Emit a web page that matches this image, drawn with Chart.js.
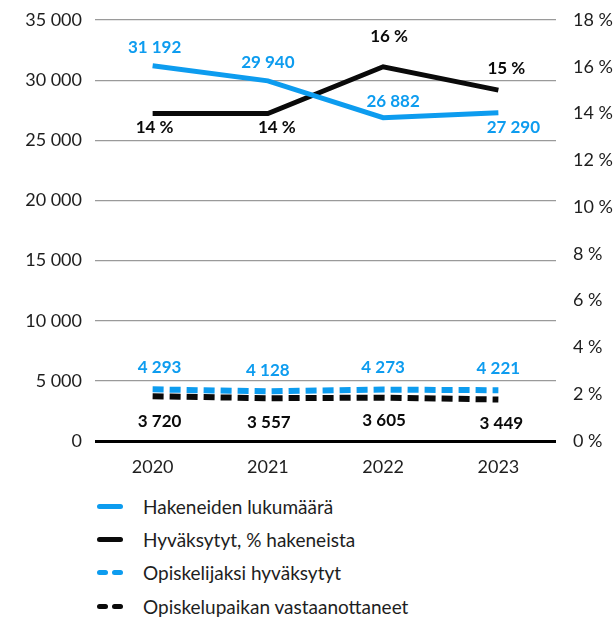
<!DOCTYPE html>
<html>
<head>
<meta charset="utf-8">
<script src="https://cdn.jsdelivr.net/npm/chart.js@4.4.1/dist/chart.umd.min.js"></script>
<style>
  html, body { margin: 0; padding: 0; background: #fff; }
  #wrap { position: relative; width: 616px; height: 620px; }
  #box { position: absolute; left: 0; top: 0; width: 616px; height: 481px; }
  #legend { position: absolute; left: 97px; top: 490px; font-family: Lato, sans-serif; font-size: 19px; color: #1e1e1e; }
  .item { display: flex; align-items: center; height: 33.2px; }
  .swatch { width: 26px; height: 5px; margin-right: 20px; display: flex; justify-content: space-between; }
  .swatch span { display: block; height: 5px; border-radius: 2.5px; }
</style>
</head>
<body>
<div id="wrap">
  <div id="box"><canvas id="chart"></canvas></div>
  <div id="legend"></div>
</div>
<script>
const years = ['2020', '2021', '2022', '2023']
const applicants = [31192, 29940, 26882, 27290]
const acceptedPct = [14, 14, 16, 15]
const acceptedStudents = [4293, 4128, 4273, 4221]
const placesAccepted = [3720, 3557, 3605, 3449]

const BLUE = '#0d9cef'
const BLACK = '#0a0a0a'

// label offsets from each point [dx, dy], one row per dataset
const labelOffsets = [
  [[2, -18], [0, -18], [10, -16], [15, 15]],
  [[2, 14], [9, 14], [6, -30], [8, -22]],
  [[7, -22], [0, -21], [0, -22], [0, -22]],
  [[7, 25], [1, 24], [1, 23], [3, 24]]
]

function fmt(n) {
  return String(n).replace(/\B(?=(\d{3})+(?!\d))/g, ' ')
}

const pointLabels = {
  id: 'pointLabels',
  afterDatasetsDraw(chart) {
    const ctx = chart.ctx
    ctx.save()
    ctx.font = 'bold 17px Lato, sans-serif'
    ctx.textAlign = 'center'
    ctx.textBaseline = 'middle'
    chart.data.datasets.forEach((ds, i) => {
      const meta = chart.getDatasetMeta(i)
      meta.data.forEach((pt, j) => {
        const off = labelOffsets[i][j]
        const txt = ds.yAxisID === 'y1' ? ds.data[j] + ' %' : fmt(ds.data[j])
        ctx.fillStyle = ds.borderColor
        ctx.fillText(txt, pt.x + off[0], pt.y + off[1])
      })
    })
    ctx.restore()
  }
}

const tickFont = { family: 'Lato, sans-serif', size: 18 }

function fitY(width) {
  return (s) => {
    s.width = width
    s.paddingTop = 0
    s.paddingBottom = 0
  }
}

const chart = new Chart(document.getElementById('chart'), {
  type: 'line',
  data: {
    labels: years,
    datasets: [{
      label: 'Hakeneiden lukumäärä',
      data: applicants,
      yAxisID: 'y',
      borderColor: BLUE,
      borderWidth: 5
    }, {
      label: 'Hyväksytyt, % hakeneista',
      data: acceptedPct,
      yAxisID: 'y1',
      borderColor: BLACK,
      borderWidth: 5
    }, {
      label: 'Opiskelijaksi hyväksytyt',
      data: acceptedStudents,
      yAxisID: 'y',
      borderColor: BLUE,
      borderWidth: 6,
      borderDash: [11, 6]
    }, {
      label: 'Opiskelupaikan vastaanottaneet',
      data: placesAccepted,
      yAxisID: 'y',
      borderColor: BLACK,
      borderWidth: 6,
      borderDash: [11, 6]
    }]
  },
  options: {
    responsive: true,
    maintainAspectRatio: false,
    animation: false,
    layout: { padding: { top: 20, left: 0, right: 0, bottom: 0 } },
    elements: {
      point: { radius: 0 },
      line: { tension: 0 }
    },
    plugins: {
      legend: { display: false },
      tooltip: { enabled: false }
    },
    scales: {
      x: {
        offset: true,
        grid: { display: false, drawTicks: false },
        border: { display: false },
        ticks: { color: '#1e1e1e', font: tickFont, padding: 15 },
        afterFit: (s) => {
          s.height = 40
          s.paddingLeft = 0
          s.paddingRight = 0
        }
      },
      y: {
        position: 'left',
        min: 0,
        max: 35000,
        grid: {
          drawTicks: false,
          color: (c) => c.tick.value === 0 ? '#000' : '#9a9a9a',
          lineWidth: (c) => c.tick.value === 0 ? 3 : 1.2
        },
        border: { display: false },
        ticks: {
          stepSize: 5000,
          color: '#1e1e1e',
          font: tickFont,
          padding: 13,
          callback: (v) => fmt(v)
        },
        afterFit: fitY(95)
      },
      y1: {
        position: 'right',
        min: 0,
        max: 18,
        grid: { display: false, drawTicks: false },
        border: { display: false },
        ticks: {
          stepSize: 2,
          color: '#1e1e1e',
          font: tickFont,
          padding: 17,
          callback: (v) => v + ' %'
        },
        afterFit: fitY(60)
      }
    }
  },
  plugins: [pointLabels]
})

// legend built from the chart's datasets
const legend = document.getElementById('legend')
chart.data.datasets.forEach((ds) => {
  const item = document.createElement('div')
  item.className = 'item'
  const sw = document.createElement('div')
  sw.className = 'swatch'
  const parts = ds.borderDash ? [11, 11] : [26]
  parts.forEach((w) => {
    const s = document.createElement('span')
    s.style.width = w + 'px'
    s.style.background = ds.borderColor
    sw.appendChild(s)
  })
  const txt = document.createElement('span')
  txt.textContent = ds.label
  item.appendChild(sw)
  item.appendChild(txt)
  legend.appendChild(item)
})
</script>
</body>
</html>
